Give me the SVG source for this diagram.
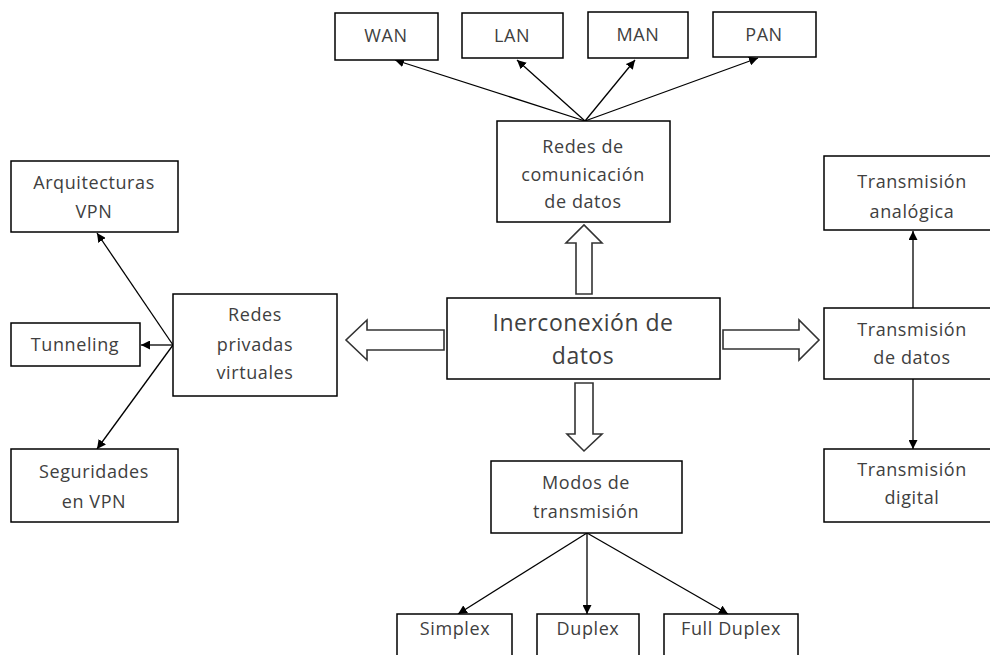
<svg xmlns="http://www.w3.org/2000/svg" width="990" height="655" viewBox="0 0 990 655">
<defs>
<marker id="ah" viewBox="0 0 10 10" refX="10" refY="5" markerWidth="9" markerHeight="9" markerUnits="userSpaceOnUse" orient="auto">
<path d="M0,0 L10,5 L0,10 z" fill="#000"/>
</marker>
<style>
.box{fill:#fff;stroke:#000;stroke-width:1.5}
.t{font-family:"Open Sans","Liberation Sans",sans-serif;font-size:18px;letter-spacing:0.6px;fill:#404040;text-anchor:middle}
.big{font-size:23px;letter-spacing:0.5px}
.ln{stroke:#000;stroke-width:1.3;fill:none;marker-end:url(#ah)}
.blk{fill:#fff;stroke:#333;stroke-width:1.6;stroke-linejoin:miter}
</style>
</defs>
<rect width="990" height="655" fill="#fff"/>
<g id="connectors">
<line class="ln" x1="585" y1="121" x2="395" y2="60"/>
<line class="ln" x1="585" y1="121" x2="517" y2="60"/>
<line class="ln" x1="585" y1="121" x2="635" y2="60"/>
<line class="ln" x1="585" y1="121" x2="758" y2="58"/>
<line class="ln" x1="173" y1="345" x2="97" y2="233"/>
<line class="ln" x1="173" y1="345" x2="141" y2="345"/>
<line class="ln" x1="173" y1="345" x2="97" y2="449"/>
<line class="ln" x1="587" y1="533" x2="458" y2="614"/>
<line class="ln" x1="587" y1="533" x2="587" y2="614"/>
<line class="ln" x1="587" y1="533" x2="728" y2="614"/>
<line class="ln" x1="913" y1="308" x2="913" y2="231"/>
<line class="ln" x1="913" y1="379" x2="913" y2="449"/>
<polygon class="blk" points="576,294 576,243 566,243 584,225 602,243 592,243 592,294"/>
<polygon class="blk" points="444,330 367,330 367,320 346,340 367,360 367,350 444,350"/>
<polygon class="blk" points="723,330 799,330 799,320 819,340 799,360 799,349 723,349"/>
<polygon class="blk" points="575,383 593,383 593,434 602,434 584,451 567,434 575,434"/>
</g>
<g id="wan"><rect class="box" x="335" y="13" width="103" height="47"/><text class="t" x="386" y="42">WAN</text></g>
<g id="lan"><rect class="box" x="462" y="13" width="101" height="45"/><text class="t" x="512" y="42">LAN</text></g>
<g id="man"><rect class="box" x="588" y="12" width="100" height="46"/><text class="t" x="638" y="41">MAN</text></g>
<g id="pan"><rect class="box" x="713" y="12" width="103" height="45"/><text class="t" x="764" y="41">PAN</text></g>
<g id="redes-com"><rect class="box" x="497" y="121" width="173" height="101"/>
<text class="t" x="583" y="153">Redes de</text><text class="t" x="583" y="181">comunicación</text><text class="t" x="583" y="208">de datos</text></g>
<g id="arquitecturas"><rect class="box" x="11" y="161" width="167" height="71"/>
<text class="t" x="94" y="189">Arquitecturas</text><text class="t" x="94" y="218">VPN</text></g>
<g id="tunneling"><rect class="box" x="11" y="323" width="129" height="43"/><text class="t" x="75" y="351">Tunneling</text></g>
<g id="seguridades"><rect class="box" x="11" y="449" width="167" height="73"/>
<text class="t" x="94" y="478">Seguridades</text><text class="t" x="94" y="508">en VPN</text></g>
<g id="vpn"><rect class="box" x="173" y="294" width="164" height="102"/>
<text class="t" x="255" y="321">Redes</text><text class="t" x="255" y="351">privadas</text><text class="t" x="255" y="379">virtuales</text></g>
<g id="inerconexion"><rect class="box" x="447" y="298" width="273" height="81"/>
<text class="t big" x="583" y="331">Inerconexión de</text><text class="t big" x="583" y="364">datos</text></g>
<g id="modos"><rect class="box" x="491" y="461" width="191" height="72"/>
<text class="t" x="586" y="489">Modos de</text><text class="t" x="586" y="518">transmisión</text></g>
<g id="simplex"><rect class="box" x="397" y="614" width="115" height="60"/><text class="t" x="455" y="635">Simplex</text></g>
<g id="duplex"><rect class="box" x="537" y="614" width="102" height="60"/><text class="t" x="588" y="635">Duplex</text></g>
<g id="fullduplex"><rect class="box" x="664" y="614" width="134" height="60"/><text class="t" x="731" y="635">Full Duplex</text></g>
<g id="analogica"><rect class="box" x="824" y="156" width="180" height="74"/>
<text class="t" x="912" y="188">Transmisión</text><text class="t" x="912" y="218">analógica</text></g>
<g id="tdatos"><rect class="box" x="824" y="308" width="180" height="71"/>
<text class="t" x="912" y="336">Transmisión</text><text class="t" x="912" y="364">de datos</text></g>
<g id="digital"><rect class="box" x="824" y="449" width="180" height="73"/>
<text class="t" x="912" y="476">Transmisión</text><text class="t" x="912" y="504">digital</text></g>
</svg>
